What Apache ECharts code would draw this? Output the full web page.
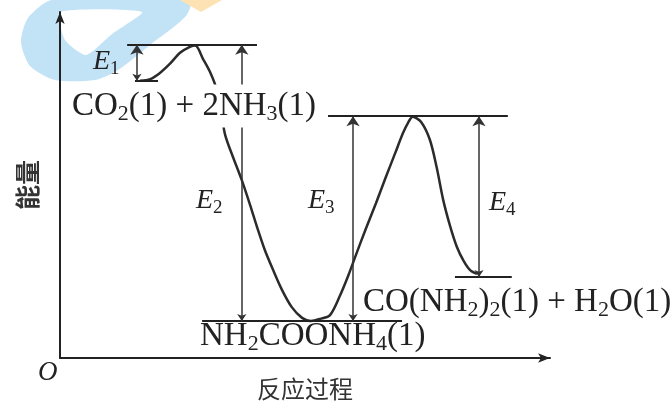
<!DOCTYPE html>
<html>
<head>
<meta charset="utf-8">
<script src="https://cdn.jsdelivr.net/npm/echarts@6/dist/echarts.min.js"></script>
<style>
  html, body { margin: 0; padding: 0; background: #fff; }
  #chart { width: 672px; height: 401px; }
</style>
</head>
<body>
<div id="chart"></div>
<script>
// energy profile, reaction progress 0-100 vs energy 0-100
const progress = [16.3, 18.4, 20.4, 22.4, 24.5, 26.5, 27.6, 29.2, 30.6, 32.0, 32.9, 33.7, 35.3, 37.1,
  38.8, 40.2, 41.8, 43.5, 45.3, 47.3, 49.4, 51.2, 53.1, 55.1, 57.1, 58.8, 60.4, 62.4, 64.5, 66.5,
  68.4, 70.0, 71.0, 72.0, 73.7, 75.5, 76.9, 78.2, 79.6, 81.0, 82.4, 83.7, 85.1];
const energy = [80.1, 80.6, 82.4, 85.0, 88.2, 89.9, 90.3, 86.4, 82.7, 77.5, 71.1, 64.5, 58.1, 51.4,
  44.2, 37.9, 31.2, 25.4, 19.7, 14.7, 11.6, 10.7, 11.3, 12.4, 17.9, 23.7, 29.8, 37.3, 44.8, 52.3,
  59.2, 65.0, 67.9, 69.7, 68.2, 63.0, 54.9, 45.7, 38.2, 32.1, 28.0, 25.4, 24.3];

// horizontal energy levels
const levelNames = ['CO2+2NH3', 'TS1', 'NH2COONH4', 'TS2', 'CO(NH2)2+H2O'];
const levelEnergy = [80.1, 90.5, 10.7, 69.9, 23.4];
const levelFrom = [15.3, 13.7, 29.0, 54.7, 80.6];
const levelTo = [20.0, 40.2, 69.8, 91.4, 92.2];

// energy gaps (double arrows)
const gapNames = ['E1', 'E2', 'E3', 'E4'];
const gapAt = [15.7, 37.1, 59.8, 85.5];
const gapLow = [80.1, 10.7, 10.7, 23.4];
const gapHigh = [90.5, 90.5, 69.9, 69.9];

const serif = '"Liberation Serif", "DejaVu Serif", serif';
const ink = '#222';

const chart = echarts.init(document.getElementById('chart'));

function chemText(x, y, text, size, extraStyle) {
  return {
    type: 'text', x: x, y: y, z: 100,
    style: Object.assign({
      text: text, fill: ink, fontFamily: serif, fontSize: size,
      verticalAlign: 'middle', lineHeight: size + 6,
      rich: {
        n: { fontSize: size, fontFamily: serif, fill: ink },
        s: { fontSize: Math.round(size * 0.68), fontFamily: serif, fill: ink, verticalAlign: 'bottom' },
        i: { fontSize: size, fontFamily: serif, fontStyle: 'italic', fill: ink }
      }
    }, extraStyle || {})
  };
}

chart.setOption({
  animation: false,
  backgroundColor: '#fff',
  grid: { left: 60, right: 122, top: 12, bottom: 43, outerBoundsMode: 'none' },
  xAxis: {
    type: 'value', min: 0, max: 100, z: 5,
    name: '反应过程', nameLocation: 'middle', nameGap: 19,
    nameTextStyle: { fontFamily: '"Noto Sans CJK SC"', fontSize: 24, color: '#333' },
    axisLine: { lineStyle: { color: ink, width: 2 }, symbol: ['none', 'arrow'], symbolSize: [7, 12] },
    axisTick: { show: false }, axisLabel: { show: false }, splitLine: { show: false }
  },
  yAxis: {
    type: 'value', min: 0, max: 100, z: 5,
    name: '能量', nameLocation: 'middle', nameGap: 20, nameRotate: 90,
    nameTextStyle: { fontFamily: '"Noto Sans CJK SC"', fontSize: 25, color: '#333', fontWeight: 'bold' },
    axisLine: { lineStyle: { color: ink, width: 2 }, symbol: ['none', 'arrow'], symbolSize: [7, 12] },
    axisTick: { show: false }, axisLabel: { show: false }, splitLine: { show: false }
  },
  graphic: [
    // faint watermark
    { type: 'polygon', z: -10, shape: { smooth: 0.25, points: [[52, 0], [190, 0], [186, 16], [150, 45], [118, 70], [95, 80], [55, 80], [30, 66], [21, 42], [28, 18]] },
      style: { fill: '#c2e3f6' } },
    { type: 'polygon', z: -9, shape: { smooth: 0.2, points: [[60, 12], [142, 12], [112, 34], [86, 55], [65, 40]] },
      style: { fill: '#fff' } },
    { type: 'polygon', z: -10, shape: { points: [[180, 0], [222, 0], [201, 12]] },
      style: { fill: '#fde3b3' } },
    chemText(72, 106, '{n|CO}{s|2}{n|(1) + 2NH}{s|3}{n|(1)}', 33, { backgroundColor: '#fff', padding: [2, 2, 2, 0] }),
    chemText(200, 336, '{n|NH}{s|2}{n|COONH}{s|4}{n|(1)}', 33),
    chemText(363, 302, '{n|CO(NH}{s|2}{n|)}{s|2}{n|(1) + H}{s|2}{n|O(1)}', 33),
    chemText(93, 62, '{i|E}{s|1}', 28),
    chemText(196, 201, '{i|E}{s|2}', 28),
    chemText(308, 201, '{i|E}{s|3}', 28),
    chemText(489, 203, '{i|E}{s|4}', 28),
    chemText(38, 373, '{i|O}', 27)
  ],
  series: [
    {
      type: 'line', z: 3,
      data: progress.map((p, i) => [p, energy[i]]),
      smooth: 0.3, showSymbol: false,
      lineStyle: { color: '#2b2b2b', width: 2.5 }
    },
    {
      type: 'lines', coordinateSystem: 'cartesian2d', z: 4,
      data: levelNames.map((n, i) => ({ name: n, coords: [[levelFrom[i], levelEnergy[i]], [levelTo[i], levelEnergy[i]]] })),
      symbol: 'none',
      lineStyle: { color: ink, width: 2, opacity: 1 }
    },
    {
      type: 'lines', coordinateSystem: 'cartesian2d', z: 4,
      data: gapNames.map((n, i) => ({ name: n, coords: [[gapAt[i], gapLow[i]], [gapAt[i], gapHigh[i]]] })),
      symbol: ['arrow', 'arrow'], symbolSize: [7, 10],
      lineStyle: { color: '#333', width: 1.5, opacity: 1 }
    }
  ]
});
</script>
</body>
</html>
